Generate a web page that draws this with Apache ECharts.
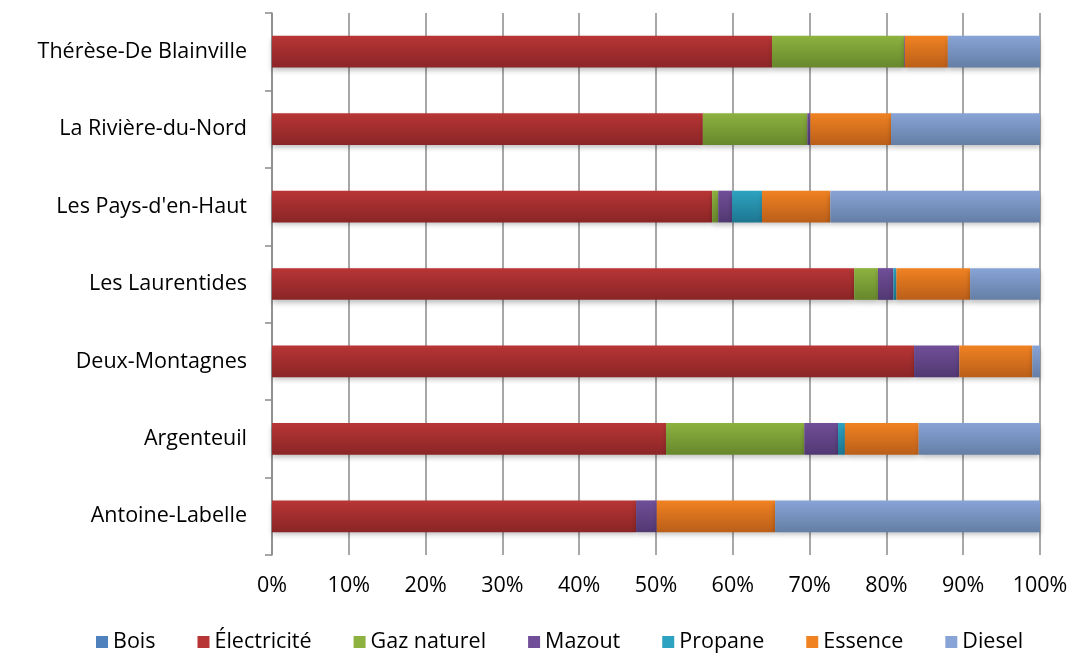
<!DOCTYPE html>
<html>
<head>
<meta charset="utf-8">
<script src="https://cdn.jsdelivr.net/npm/echarts@6/dist/echarts.min.js"></script>
<style>
  html, body { margin: 0; padding: 0; background: #fff; }
  #chart { width: 1073px; height: 656px; }
</style>
</head>
<body>
<div id="chart"></div>
<script>
// catégories, du haut vers le bas
const regions = ['Thérèse-De Blainville', 'La Rivière-du-Nord', "Les Pays-d'en-Haut", 'Les Laurentides', 'Deux-Montagnes', 'Argenteuil', 'Antoine-Labelle']
// parts (%) par source d'énergie
const bois = [0, 0, 0, 0, 0, 0, 0]
const electricite = [65.1, 56.1, 57.3, 75.8, 83.6, 51.3, 47.4]
const gazNaturel = [17.2, 13.6, 0.8, 3.1, 0, 18.0, 0]
const mazout = [0.1, 0.4, 1.8, 2.0, 5.9, 4.4, 2.7]
const propane = [0, 0, 3.9, 0.4, 0, 0.9, 0]
const essence = [5.6, 10.5, 8.9, 9.6, 9.5, 9.6, 15.4]
const diesel = [12.0, 19.4, 27.3, 9.1, 1.0, 15.8, 34.5]
const xTicks = [0, 10, 20, 30, 40, 50, 60, 70, 80, 90, 100]

const chart = echarts.init(document.getElementById('chart'))

// dégradé vertical comme dans le graphique Excel
function grad(top, bottom) {
  return new echarts.graphic.LinearGradient(0, 0, 0, 1, [
    { offset: 0, color: top },
    { offset: 1, color: bottom }
  ])
}

const seriesDefs = [
  { name: 'Bois', data: bois, c: ['#4f81bd', '#385d8a'] },
  { name: 'Électricité', data: electricite, c: ['#b83535', '#8a2526'] },
  { name: 'Gaz naturel', data: gazNaturel, c: ['#8db23f', '#67872c'] },
  { name: 'Mazout', data: mazout, c: ['#704f98', '#513872'] },
  { name: 'Propane', data: propane, c: ['#2ea3c1', '#1d7690'] },
  { name: 'Essence', data: essence, c: ['#f08222', '#ba5e19'] },
  { name: 'Diesel', data: diesel, c: ['#88a4d6', '#647ea5'] }
]

const font = '"Open Sans", Lato, sans-serif'

chart.setOption({
  animation: false,
  textStyle: { fontFamily: font },
  grid: { left: 272, right: 33, top: 13, bottom: 101 },
  legend: {
    bottom: 3,
    left: 96,
    padding: 0,
    icon: 'rect',
    itemWidth: 12,
    itemHeight: 12,
    itemGap: 42,
    itemStyle: { borderWidth: 0 },
    textStyle: { fontSize: 21.5, color: '#000', fontFamily: font },
    data: seriesDefs.map(s => ({ name: s.name, itemStyle: { color: s.c[0] } }))
  },
  xAxis: {
    type: 'value',
    min: xTicks[0],
    max: xTicks[xTicks.length - 1],
    interval: 10,
    axisLine: { show: false },
    axisTick: { show: false },
    axisLabel: { formatter: '{value}%', fontSize: 21.5, color: '#000', margin: 20 },
    splitLine: { lineStyle: { color: '#8a8a8a', width: 1.5 } }
  },
  yAxis: {
    type: 'category',
    data: regions,
    inverse: true,
    axisLine: { lineStyle: { color: '#8a8a8a', width: 1.5 } },
    axisTick: { show: true, length: 7, lineStyle: { color: '#8a8a8a', width: 1.5 } },
    axisLabel: { fontSize: 21.5, color: '#000', margin: 25 }
  },
  series: seriesDefs.map(s => ({
    name: s.name,
    type: 'bar',
    stack: 'total',
    barWidth: '41%',
    data: s.data,
    itemStyle: {
      color: grad(s.c[0], s.c[1]),
      shadowColor: 'rgba(0,0,0,0.25)',
      shadowBlur: 5,
      shadowOffsetY: 3
    }
  }))
})
</script>
</body>
</html>
